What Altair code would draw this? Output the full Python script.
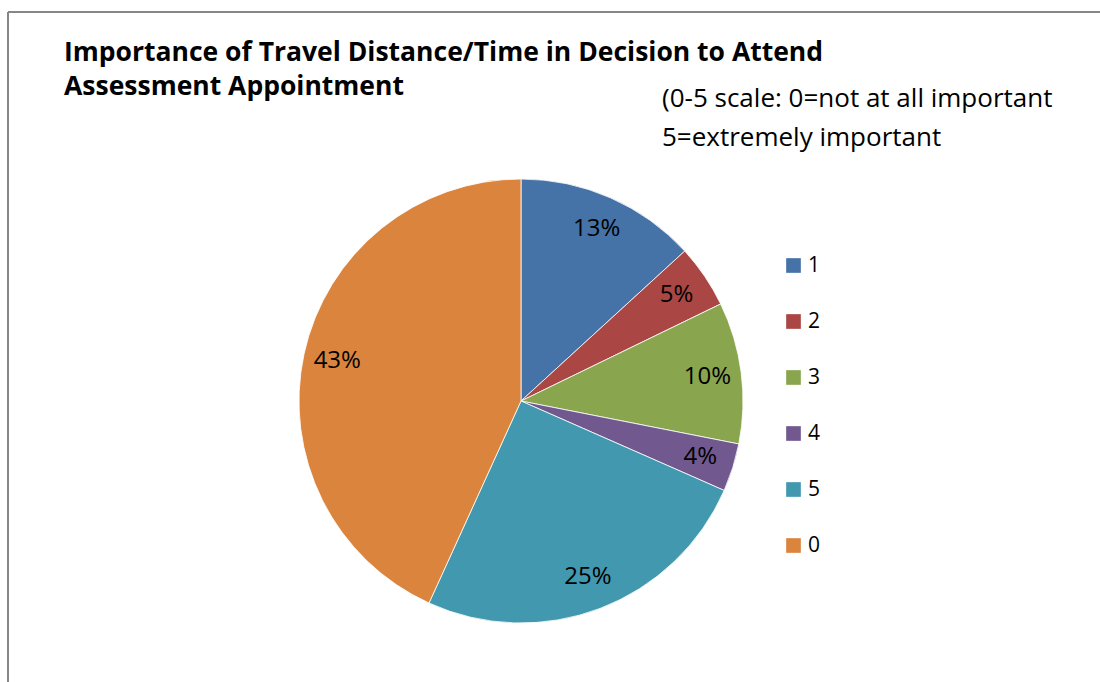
import altair as alt
import pandas as pd

categories = ["1", "2", "3", "4", "5", "0"]
values = [13.2, 4.6, 10.3, 3.5, 25.2, 43.2]
labels = ["13%", "5%", "10%", "4%", "25%", "43%"]
colors = ["#4572A7", "#AA4643", "#89A54E", "#71588F", "#4198AF", "#DB843D"]
title_lines = ["Importance of Travel Distance/Time in Decision to Attend", "Assessment Appointment"]
subtitle_lines = ["(0-5 scale: 0=not at all important", "5=extremely important"]

FONT = "Open Sans"

df = pd.DataFrame({"cat": categories, "value": values, "label": labels, "order": list(range(len(categories)))})

base = alt.Chart(df).encode(
    theta=alt.Theta("value:Q", stack=True),
    order=alt.Order("order:Q"),
)

pie = base.mark_arc(radius=222, stroke="white", strokeWidth=0.8).encode(
    x=alt.value(521),
    y=alt.value(401),
    color=alt.Color(
        "cat:N",
        scale=alt.Scale(domain=categories, range=colors),
        sort=categories,
        legend=alt.Legend(
            title=None,
            orient="none",
            legendX=783,
            legendY=255,
            symbolType="square",
            symbolSize=215,
            symbolStrokeWidth=0,
            labelFont=FONT,
            labelFontSize=21,
            labelColor="#000000",
            labelOffset=4,
            rowPadding=34,
            padding=0,
        ),
    ),
)

pie_labels = base.mark_text(radius=188, font=FONT, fontSize=24, color="#000000").encode(
    x=alt.value(521),
    y=alt.value(401),
    text="label:N",
)

title_df = pd.DataFrame({"t": ["\n".join(title_lines)]})
title = alt.Chart(title_df).mark_text(
    font=FONT, fontSize=26.5, fontWeight="bold", align="left", baseline="alphabetic",
    lineBreak="\n", lineHeight=34, color="#000000",
).encode(text="t:N", x=alt.value(64), y=alt.value(61))

sub_df = pd.DataFrame({"t": ["\n".join(subtitle_lines)]})
subtitle = alt.Chart(sub_df).mark_text(
    font=FONT, fontSize=26, align="left", baseline="alphabetic",
    lineBreak="\n", lineHeight=39, color="#000000",
).encode(text="t:N", x=alt.value(662), y=alt.value(107))

frame_top = alt.Chart(title_df).mark_rule(stroke="#868686", strokeWidth=2).encode(
    x=alt.value(8), x2=alt.value(1100), y=alt.value(12)
)
frame_left = alt.Chart(title_df).mark_rule(stroke="#868686", strokeWidth=2).encode(
    x=alt.value(8), y=alt.value(12), y2=alt.value(682)
)

chart = alt.layer(frame_top, frame_left, pie, pie_labels, title, subtitle).properties(
    width=1100, height=682, autosize=alt.AutoSizeParams(type="none"), padding=0,
    background="white",
).configure_view(stroke=None)

chart.save("out.html", embed_options={"renderer": "svg", "actions": False})
